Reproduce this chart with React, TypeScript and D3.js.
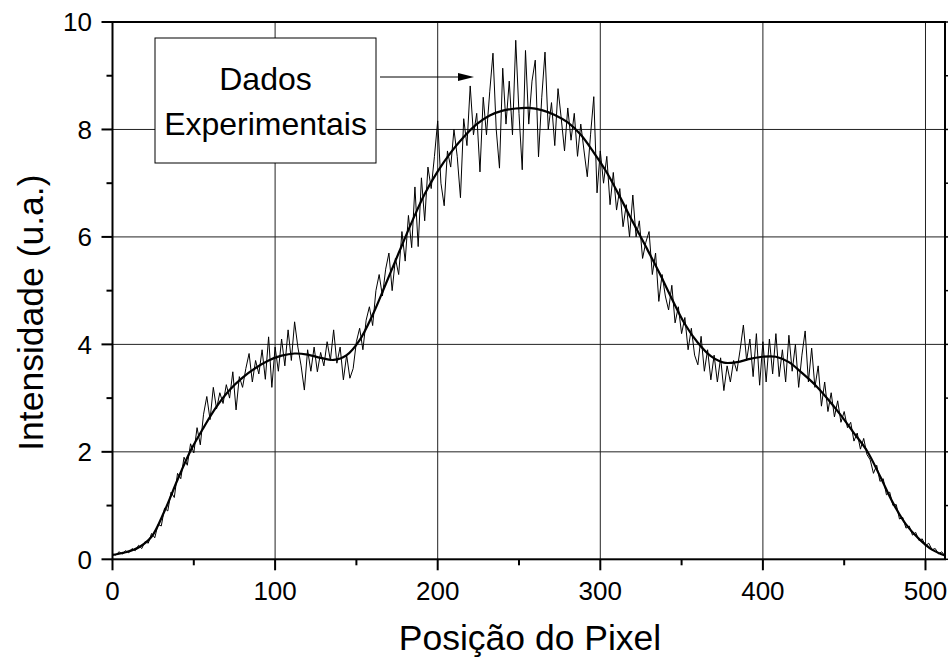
import React from "react";
import * as d3 from "d3";

// ---- data ----
const noisyStep = 2; // pixel step of the experimental samples
const noisyValues: number[] = [
  0.1, 0.08, 0.14, 0.1, 0.16, 0.12, 0.2, 0.16, 0.26, 0.2, 0.33, 0.3, 0.48, 0.4, 0.65, 0.62,
  0.95, 0.9, 1.25, 1.15, 1.6, 1.5, 1.9, 1.75, 2.15, 1.98, 2.45, 2.13, 2.7, 3.03, 2.6, 3.2, 2.8, 3.1, 2.9, 3.25,
  3.0, 3.49, 2.78, 3.4, 3.2, 3.55, 3.83, 3.3, 3.7, 3.45,
  3.9, 3.35, 4.14, 3.2, 3.95, 3.5, 4.1, 3.6, 4.27, 3.7, 4.42, 3.95, 3.6, 3.15, 3.9, 3.5, 3.95, 3.49, 3.85, 3.6,
  4.05, 3.7, 4.27, 3.65, 3.95, 3.34, 3.8, 3.37, 3.55, 4.05,
  4.3, 3.9, 4.45, 4.7, 4.35, 5.0, 5.3, 4.9, 5.4, 5.7, 5.0, 5.6, 5.3, 6.1, 5.55, 6.4, 5.8, 6.93, 5.82, 7.1, 6.3,
  7.3, 6.9, 7.5, 8.16,
  7.0, 6.58, 7.6, 7.3, 8.0, 7.5, 6.73, 8.2, 7.7, 8.81, 7.9, 8.3, 7.21, 8.6, 7.9, 8.7, 9.42, 8.0, 7.28, 9.14,
  8.1, 8.9, 7.9, 9.66, 8.3, 7.25, 9.47, 8.1, 8.9, 9.29, 7.49, 8.6, 9.44, 8.0, 8.5, 7.7, 8.76, 8.2, 7.6, 8.4,
  7.8, 8.3, 7.5, 8.1, 7.6, 7.12, 7.9, 8.61, 6.82, 7.6,
  7.0, 7.5, 6.6, 7.2, 6.5, 6.9, 6.19, 6.6, 6.0, 6.78, 6.0, 6.3, 5.6, 5.9, 6.1, 5.3, 5.7, 4.8, 5.3, 4.9, 4.64,
  5.1, 4.4, 4.7, 4.2,
  4.5, 3.9, 4.3, 3.8, 3.62, 4.15, 3.5, 3.9, 3.34, 3.8, 3.3, 3.75, 3.14, 3.6, 3.3, 3.7, 3.5, 3.9, 4.36, 3.7,
  4.1, 3.4, 4.2, 3.24, 4.05, 3.3, 4.1, 3.45, 4.2, 3.4, 3.9, 3.3, 4.17, 3.5, 4.0, 3.2, 3.8, 4.25, 3.3, 3.93,
  3.2, 3.6, 2.85, 3.3, 2.75, 3.1, 2.65, 2.95, 2.55, 2.75, 2.45, 2.55, 2.2, 2.35, 2.05, 2.25, 1.95, 1.85, 1.6,
  1.75, 1.45, 1.5, 1.2, 1.25, 1.0, 1.02, 0.75, 0.78, 0.58, 0.62, 0.45, 0.5, 0.35, 0.38, 0.25, 0.3, 0.18, 0.2,
  0.1, 0.14, 0.06,
];

const smoothStep = 8; // pixel step of the fitted curve
const smoothValues: number[] = [
  0.08, 0.13, 0.22, 0.42, 0.9, 1.48, 2.02, 2.45, 2.84, 3.15, 3.38, 3.56, 3.7, 3.79, 3.83, 3.81, 3.75, 3.71,
  3.8, 4.08, 4.55, 5.12, 5.7, 6.27, 6.8, 7.22, 7.57, 7.86, 8.1, 8.26, 8.35, 8.39, 8.4, 8.36, 8.27, 8.13, 7.9,
  7.57, 7.2, 6.75, 6.28, 5.82, 5.35, 4.85, 4.38, 4.03, 3.78, 3.66, 3.67, 3.73, 3.77, 3.77, 3.67, 3.47, 3.25,
  2.98, 2.68, 2.35, 2.02, 1.55, 1.05, 0.65, 0.38, 0.18, 0.07,
];

const xMajorTicks = [0, 100, 200, 300, 400, 500];
const xMinorTicks = [50, 150, 250, 350, 450];
const yMajorTicks = [0, 2, 4, 6, 8, 10];
const yMinorTicks = [1, 3, 5, 7, 9];
const xGrid = [100, 200, 300, 400, 500];
const yGrid = [2, 4, 6, 8];

const xTitle = "Posição do Pixel";
const yTitle = "Intensidade (u.a.)";
const noteLines = ["Dados", "Experimentais"];

// ---- layout ----
const W = 948;
const H = 659;
const L = 112.5;
const R = 945;
const T = 22;
const B = 559.3;
const FONT = "'Liberation Sans', Arial, Helvetica, sans-serif";

export default function App() {
  const x = d3.scaleLinear().domain([0, 512]).range([L, R]);
  const y = d3.scaleLinear().domain([0, 10]).range([B, T]);

  const noisyPts: [number, number][] = noisyValues.map((v, i) => [i * noisyStep, v]);
  const smoothPts: [number, number][] = smoothValues.map((v, i) => [i * smoothStep, v]);

  const noisyPath = d3
    .line<[number, number]>()
    .x((d) => x(d[0]))
    .y((d) => y(d[1]))(noisyPts) as string;
  const smoothPath = d3
    .line<[number, number]>()
    .x((d) => x(d[0]))
    .y((d) => y(d[1]))
    .curve(d3.curveCatmullRom.alpha(0.5))(smoothPts) as string;

  const boxL = 155;
  const boxR = 376;
  const boxT = 38;
  const boxB = 163;
  const arrowY = 77;

  return (
    <div style={{ position: "absolute", left: 0, top: 0 }}>
      <svg width={W} height={H} style={{ display: "block", background: "#fff" }} fontFamily={FONT}>
        <rect x={0} y={0} width={W} height={H} fill="#fff" />
        {/* grid */}
        {xGrid.map((g) => (
          <line key={"gx" + g} x1={x(g)} x2={x(g)} y1={T} y2={B} stroke="#222" strokeWidth={1} />
        ))}
        {yGrid.map((g) => (
          <line key={"gy" + g} x1={L} x2={R} y1={y(g)} y2={y(g)} stroke="#222" strokeWidth={1} />
        ))}

        {/* data */}
        <path d={noisyPath} fill="none" stroke="#000" strokeWidth={1} strokeLinejoin="round" />
        <path d={smoothPath} fill="none" stroke="#000" strokeWidth={2.2} />

        {/* annotation box */}
        <rect x={boxL} y={boxT} width={boxR - boxL} height={boxB - boxT} fill="#fff" stroke="#000" strokeWidth={1} />
        <text x={(boxL + boxR) / 2} y={90} textAnchor="middle" fontSize={32} fill="#000">
          {noteLines[0]}
        </text>
        <text x={(boxL + boxR) / 2} y={135} textAnchor="middle" fontSize={32} fill="#000">
          {noteLines[1]}
        </text>
        <line x1={380} x2={460} y1={arrowY} y2={arrowY} stroke="#000" strokeWidth={1} />
        <polygon points={`474,${arrowY} 458,${arrowY - 4} 458,${arrowY + 4}`} fill="#000" />

        {/* frame */}
        <rect x={L} y={T} width={R - L} height={B - T} fill="none" stroke="#000" strokeWidth={2} />

        {/* bottom ticks */}
        {xMajorTicks.map((t) => (
          <g key={"xt" + t}>
            <line x1={x(t)} x2={x(t)} y1={B} y2={B + 11} stroke="#000" strokeWidth={2} />
            <text x={x(t)} y={600} textAnchor="middle" fontSize={26} fill="#000">
              {t}
            </text>
          </g>
        ))}
        {xMinorTicks.map((t) => (
          <line key={"xm" + t} x1={x(t)} x2={x(t)} y1={B} y2={B + 6} stroke="#000" strokeWidth={2} />
        ))}
        {/* right mirror ticks */}
        {yMajorTicks.map((t) => (
          <line key={"rt" + t} x1={R} x2={R + 11} y1={y(t)} y2={y(t)} stroke="#000" strokeWidth={1.5} />
        ))}
        {yMinorTicks.map((t) => (
          <line key={"rm" + t} x1={R} x2={R + 6} y1={y(t)} y2={y(t)} stroke="#000" strokeWidth={1.5} />
        ))}

        {/* left ticks */}
        {yMajorTicks.map((t) => (
          <g key={"yt" + t}>
            <line x1={L - 11} x2={L} y1={y(t)} y2={y(t)} stroke="#000" strokeWidth={2} />
            <text x={92} y={y(t)} dy="0.36em" textAnchor="end" fontSize={26} fill="#000">
              {t}
            </text>
          </g>
        ))}
        {yMinorTicks.map((t) => (
          <line key={"ym" + t} x1={L - 6} x2={L} y1={y(t)} y2={y(t)} stroke="#000" strokeWidth={2} />
        ))}

        {/* titles */}
        <text x={530} y={650} textAnchor="middle" fontSize={35.5} fill="#000">
          {xTitle}
        </text>
        <text
          transform={`translate(43, ${(T + B) / 2 + 22}) rotate(-90)`}
          textAnchor="middle"
          fontSize={35.5}
          fill="#000"
        >
          {yTitle}
        </text>
      </svg>
    </div>
  );
}
